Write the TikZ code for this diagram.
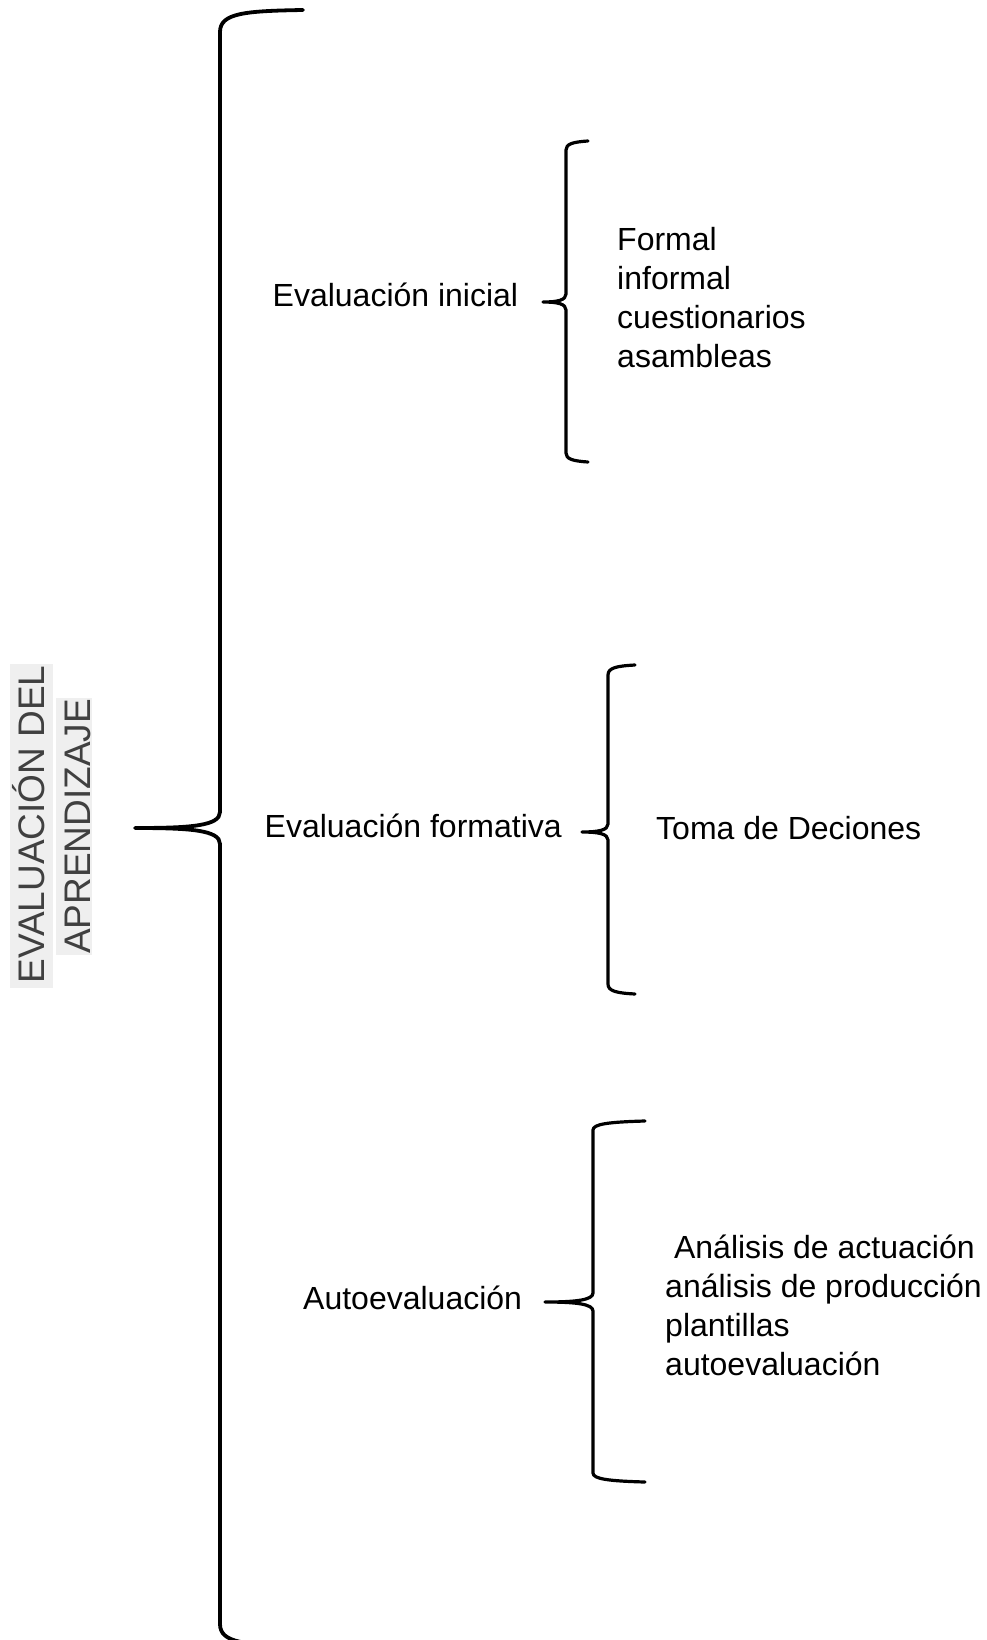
\documentclass[tikz,border=0pt]{standalone}
\usepackage{fontspec}
\setmainfont{Liberation Sans}
\usepackage{graphicx}
\definecolor{titlegray}{HTML}{404040}
\definecolor{hlgray}{HTML}{EFEFEF}
\tikzset{
  bigbrace/.style={draw=black, line width=3.8pt, line cap=round, line join=round},
  smallbrace/.style={draw=black, line width=3.2pt, line cap=round, line join=round},
  label/.style={inner sep=0pt, anchor=base west, font=\fontsize{32}{39}\selectfont},
  titletext/.style={inner sep=0pt, anchor=base, rotate=90, text=titlegray, font=\fontsize{37}{44}\selectfont}
}
% #1 line x, #2 end x, #3 top y, #4 tip x, #5 tip y, #6 bottom y, #7 corner, #8 cusp, #9 style
\newcommand\drawbrace[9]{%
  \draw[#9] (#2,#3) .. controls ({#1+0.3*(#2-#1)},{#3+1}) and (#1,{#3+3}) .. (#1,{#3+#7})
    -- (#1,{#5-#8}) .. controls (#1,{#5-2}) and ({#1-0.35*(#1-#4)},#5) .. (#4,#5)
    .. controls ({#1-0.35*(#1-#4)},#5) and (#1,{#5+2}) .. (#1,{#5+#8})
    -- (#1,{#6-#7}) .. controls (#1,{#6-3}) and ({#1+0.3*(#2-#1)},{#6-1}) .. (#2,#6);}
\begin{document}
\begin{tikzpicture}[x=1pt,y=-1pt]
\useasboundingbox (0,0) rectangle (986,1640);
% title highlights
\fill[hlgray] (10,664) rectangle (52.7,987.7);
\fill[hlgray] (56,698) rectangle (91.7,955);
\node[titletext] (t1) at (44,824.5) {EVALUACIÓN DEL};
\node[titletext] (t2) at (90.7,826.5) {APRENDIZAJE};
% big brace
\drawbrace{220}{303}{10}{135}{828}{1646}{22}{16}{bigbrace}
% first level labels
\node[label] (ini) at (272.5,306) {Evaluación inicial};
\node[label] (for) at (264.5,837) {Evaluación formativa};
\node[label] (aut) at (303,1309) {Autoevaluación};
% small braces
\drawbrace{566}{588}{141}{543}{302}{462}{9}{8}{smallbrace}
\drawbrace{608}{635}{665}{582}{832}{994}{10}{8}{smallbrace}
\drawbrace{593}{645}{1121}{545}{1302}{1482}{9}{9}{smallbrace}
% second level texts
\node[label] (iniD) at (617,250) {\begin{tabular}[t]{@{}l@{}}Formal\\informal\\cuestionarios\\asambleas\end{tabular}};
\node[label] (forD) at (656,839) {Toma de Deciones};
\node[label] (autD) at (665,1258) {\begin{tabular}[t]{@{}l@{}}\ Análisis de actuación\\análisis de producción\\plantillas\\autoevaluación\end{tabular}};
\end{tikzpicture}
\end{document}
